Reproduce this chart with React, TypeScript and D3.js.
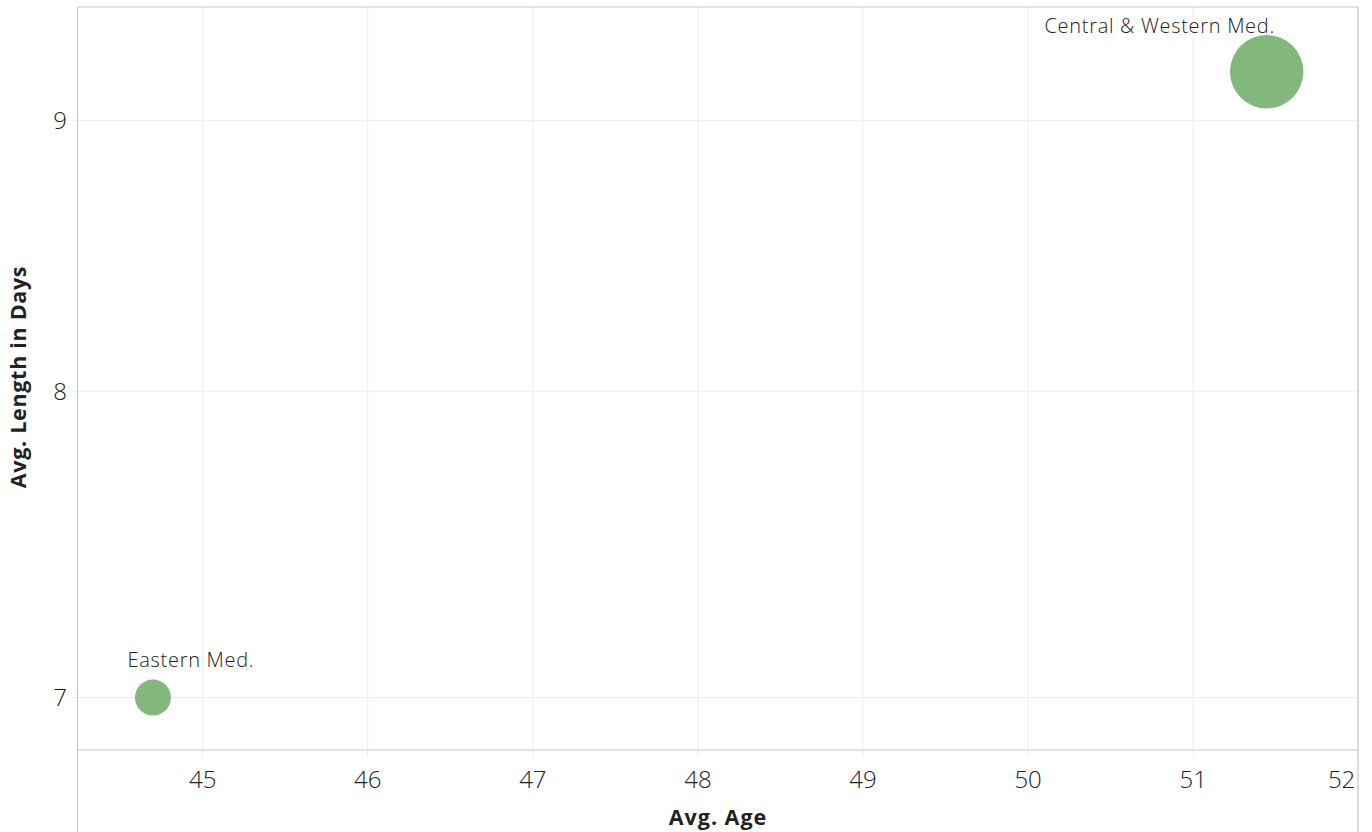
import React from "react";
import * as d3 from "d3";

const regions = ["Central & Western Med.", "Eastern Med."];
const avgAge = [51.445, 44.699];
const avgLength = [9.194, 7.0];
const sizeValue = [4.16, 1.0];
const xTicks = [45, 46, 47, 48, 49, 50, 51, 52];
const yTicks = [7, 8, 9];

const W = 1372;
const H = 832;
const plot = { left: 77.5, right: 1358, top: 7, bottom: 750 };
const FONT = "'Open Sans', 'Noto Sans', sans-serif";
const GREEN = "#83b87c";

export default function App() {
  const x = d3.scaleLinear().domain([44.242, 51.998]).range([plot.left, plot.right]);
  const y = d3.scaleLog().domain([6.842, 9.457]).range([plot.bottom, plot.top]);
  const r = d3.scaleSqrt().domain([0, d3.max(sizeValue) as number]).range([0, 36.7]);

  const labelOffsets = [
    { dx: -107, dy: -39 },
    { dx: 38, dy: -31 },
  ];

  return (
    <svg
      width={W}
      height={H}
      style={{ position: "absolute", left: 0, top: 0, background: "#fff" }}
      fontFamily={FONT}
    >
      {/* gridlines */}
      {xTicks.map((t) => (
        <line key={"gx" + t} x1={x(t)} x2={x(t)} y1={plot.top} y2={plot.bottom + 7} stroke="#ececec" strokeWidth={1} />
      ))}
      {yTicks.map((t) => (
        <line key={"gy" + t} x1={plot.left - 7} x2={plot.right} y1={y(t)} y2={y(t)} stroke="#ececec" strokeWidth={1} />
      ))}
      {/* frame */}
      <line x1={plot.left} x2={plot.right} y1={plot.top} y2={plot.top} stroke="#c8c8c8" strokeWidth={1.2} />
      <line x1={plot.left} x2={plot.left} y1={plot.top} y2={H} stroke="#c8c8c8" strokeWidth={1.2} />
      <line x1={plot.right} x2={plot.right} y1={plot.top} y2={H} stroke="#c8c8c8" strokeWidth={1.2} />
      <line x1={plot.left} x2={plot.right} y1={plot.bottom} y2={plot.bottom} stroke="#c8c8c8" strokeWidth={1.2} />

      {/* tick labels */}
      {xTicks.map((t, i) => (
        <text
          key={"xt" + t}
          x={i === xTicks.length - 1 ? x(t) - 3 : x(t)}
          y={787.5}
          textAnchor={i === xTicks.length - 1 ? "end" : "middle"}
          fontSize={24}
          fontWeight={300}
          fill="#222"
        >
          {t}
        </text>
      ))}
      {yTicks.map((t) => (
        <text key={"yt" + t} x={67} y={y(t)} dy="0.36em" textAnchor="end" fontSize={24} fontWeight={300} fill="#222">
          {t}
        </text>
      ))}

      {/* axis titles */}
      <text x={718} y={825} textAnchor="middle" fontSize={21.5} letterSpacing={1} fontWeight="bold" fill="#222">
        Avg. Age
      </text>
      <text
        transform={`translate(26,377) rotate(-90)`}
        textAnchor="middle"
        fontSize={21.5}
        letterSpacing={0.7}
        fontWeight="bold"
        fill="#222"
      >
        Avg. Length in Days
      </text>

      {/* bubbles */}
      {regions.map((name, i) => (
        <g key={name}>
          <circle cx={x(avgAge[i])} cy={y(avgLength[i])} r={r(sizeValue[i])} fill={GREEN} />
          <text
            x={x(avgAge[i]) + labelOffsets[i].dx}
            y={y(avgLength[i]) + labelOffsets[i].dy}
            textAnchor="middle"
            fontSize={20}
            letterSpacing={0.7}
            fontWeight={300}
            fill="#222"
          >
            {name}
          </text>
        </g>
      ))}
    </svg>
  );
}
